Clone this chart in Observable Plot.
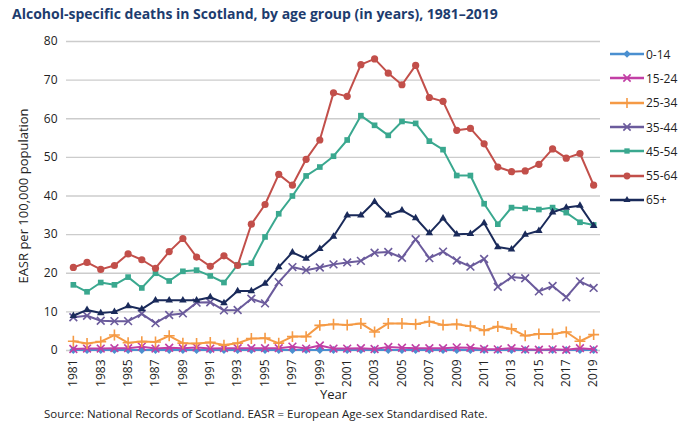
<!DOCTYPE html>
<html><head><meta charset="utf-8">
<script src="https://cdn.jsdelivr.net/npm/d3@7"></script>
<script src="https://cdn.jsdelivr.net/npm/@observablehq/plot@0.6"></script>
<style>
body{margin:0;font-family:"Open Sans",sans-serif;background:#fff;width:680px;height:442px;position:relative;overflow:hidden}
#title{position:absolute;left:12px;top:4px;font-size:14px;font-weight:bold;color:#1d3c6e}
#chart{position:absolute;left:0;top:28px}
#caption{position:absolute;left:44px;top:406px;font-size:11.5px;color:#222}
#legend{position:absolute;left:610px;top:42px;font-size:12px;color:#222;width:70px;white-space:nowrap}
#legend div{height:24.3px;display:flex;align-items:center}
</style></head><body>
<div id="title">Alcohol-specific deaths in Scotland, by age group (in years), 1981–2019</div>
<div id="chart"></div>
<div id="legend"></div>
<div id="caption">Source: National Records of Scotland. EASR = European Age-sex Standardised Rate.</div>
<script>
const years = d3.range(1981, 2020);
const groups = ["0-14","15-24","25-34","35-44","45-54","55-64","65+"];
const colors = ["#4a8fd0","#c23fa5","#f59a45","#6b5b9c","#3aa88f","#c24f4a","#1a2a5a"];
const symbols = ["diamond2","times","plus","times","square2","circle","triangle2"];
const v0_14 = Array(39).fill(0.1);
const v15_24 = [0.4,0.5,0.5,0.6,0.6,1,0.5,0.7,0.6,0.8,0.5,0.6,0.6,0.6,0.6,0.6,1,0.5,1.3,0.5,0.5,0.6,0.4,0.9,0.7,0.6,0.6,0.6,0.8,0.7,0.4,0.3,0.6,0.3,0.2,0.3,0.2,0.6,0.3];
const v25_34 = [2.4,1.8,2.3,4,2,2.3,2.2,3.8,1.9,1.8,2.1,1.4,1.9,3.1,3.2,1.9,3.6,3.6,6.5,6.8,6.6,7,4.8,7,7,6.8,7.5,6.6,6.8,6.3,5.2,6.2,5.6,3.8,4.3,4.3,4.8,2.4,4.1];
const v35_44 = [8.6,9,7.7,7.6,7.6,9.5,7.1,9.2,9.6,12.4,12.5,10.4,10.5,13.4,12.2,17.7,21.6,20.8,21.5,22.3,22.8,23.2,25.3,25.5,24,28.8,23.9,25.6,23.3,21.7,23.7,16.5,19,18.7,15.3,16.7,13.8,17.9,16.2];
const v45_54 = [17,15.2,17.6,17,19,16.2,20,18,20.5,20.8,19.3,17.6,22.2,22.6,29.4,35.4,40,45.2,47.5,50.3,54.5,60.8,58.3,55.7,59.3,58.8,54.2,52,45.3,45.3,38,32.7,37,36.8,36.5,37,35.7,33.2,32.5];
const v55_64 = [21.5,22.8,21,22,25,23.5,21.3,25.6,29,24.2,21.8,24.5,22,32.7,37.8,45.6,42.8,49.5,54.5,66.7,65.8,74,75.5,71.8,68.8,73.8,65.5,64.5,57,57.5,53.5,47.5,46.3,46.5,48.2,52.2,49.8,51,42.8];
const v65 = [9,10.5,9.7,10,11.5,10.7,13,13,13,13,13.8,12.3,15.4,15.4,17.3,21.6,25.4,23.8,26.3,29.5,35,35,38.5,35,36.3,34.3,30.4,34.2,30.1,30.2,33,26.8,26.2,30,31,35.8,37,37.5,32.3];
const series = [v0_14,v15_24,v25_34,v35_44,v45_54,v55_64,v65];
const xTicks = d3.range(1981, 2020, 2);
const yTicks = d3.range(0, 90, 10);

const data = [];
series.forEach((s,i)=>s.forEach((v,j)=>data.push({year:years[j],value:v,group:groups[i]})));
const hollow = new Set(["15-24","25-34","35-44"]);

const marks = [
  Plot.gridY(yTicks,{stroke:"#ccc",strokeOpacity:1,strokeWidth:1.3}),
  Plot.axisY(yTicks,{tickSize:0,label:"EASR per 100,000 population",labelAnchor:"center",labelArrow:"none",labelOffset:48,fontSize:12}),
  Plot.axisX(xTicks,{tickSize:0,tickRotate:-90,tickFormat:d=>String(d),label:"Year",labelAnchor:"center",labelArrow:"none",labelOffset:48,fontSize:12})
];
groups.forEach((g,i)=>{
  const d = data.filter(r=>r.group===g);
  marks.push(Plot.line(d,{x:"year",y:"value",stroke:colors[i],strokeWidth:2}));
  marks.push(Plot.dot(d,{x:"year",y:"value",symbol:()=>symbols[i],r:3.6,
    fill:hollow.has(g)?"none":colors[i],stroke:colors[i],strokeWidth:hollow.has(g)?1.6:0}));
});
const chart = Plot.plot({
  width:680,height:375,marginLeft:66,marginRight:80,marginTop:13,marginBottom:53,
  style:{fontFamily:"Open Sans, sans-serif",fontSize:"12px",color:"#222"},
  x:{domain:[1980.5,2019.5]},
  y:{domain:[0,80]},
  marks
});
chart.querySelectorAll("[aria-label='x-axis label'] text, [aria-label='y-axis label'] text").forEach(t=>{t.style.fontSize="13px";});
document.getElementById("chart").appendChild(chart);

const leg = document.getElementById("legend");
groups.forEach((g,i)=>{
  const div=document.createElement("div");
  const svg=d3.create("svg").attr("width",36).attr("height",12);
  svg.append("line").attr("x1",0).attr("x2",34).attr("y1",6).attr("y2",6).attr("stroke",colors[i]).attr("stroke-width",2.5);
  const sym = d3.symbol().type({diamond2:d3.symbolDiamond2,times:d3.symbolTimes,plus:d3.symbolPlus,square2:d3.symbolSquare2,circle:d3.symbolCircle,triangle2:d3.symbolTriangle2}[symbols[i]]).size(36);
  svg.append("path").attr("d",sym()).attr("transform","translate(17,6)")
    .attr("fill",hollow.has(g)?"none":colors[i]).attr("stroke",colors[i]).attr("stroke-width",hollow.has(g)?1.6:0);
  div.appendChild(svg.node());
  div.appendChild(document.createTextNode(g));
  leg.appendChild(div);
});
</script></body></html>
